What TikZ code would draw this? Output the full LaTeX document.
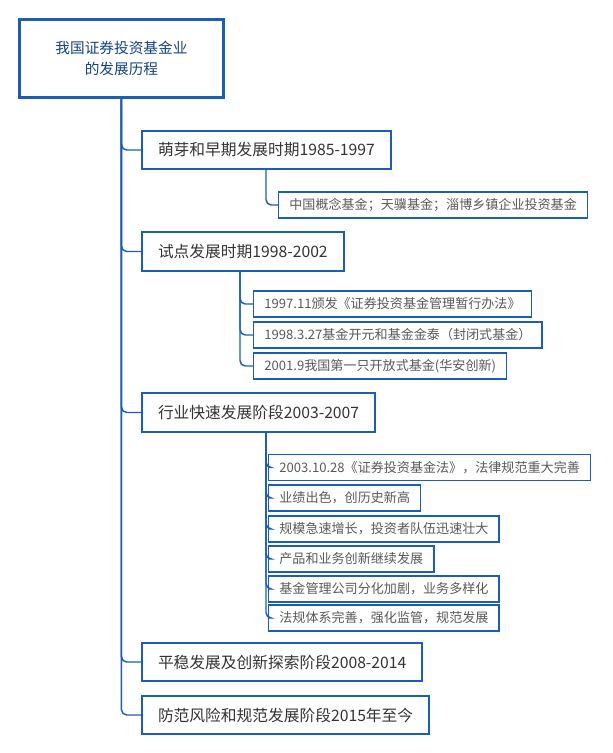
\documentclass[tikz,border=0pt]{standalone}
\usepackage{fontspec}
\setmainfont{Noto Sans CJK SC}
\definecolor{bl}{RGB}{28,94,180}
\begin{document}
\begin{tikzpicture}[x=0.75pt,y=-0.75pt,
  rootbox/.style={draw=bl, line width=2.2pt, align=center, text=bl!70!black, font=\fontsize{11pt}{16pt}\selectfont, minimum width=153pt, minimum height=58.5pt, anchor=north west},
  lvone/.style={draw=bl, line width=1.5pt, text=black!80, font=\fontsize{11.8pt}{13pt}\selectfont, inner xsep=12pt, minimum height=29pt, anchor=west},
  lvtwo/.style={draw=bl, line width=1.1pt, text=black!65, font=\fontsize{9.8pt}{11pt}\selectfont, inner xsep=8pt, minimum height=19.5pt, anchor=west},
  conn/.style={draw=bl, line width=1.1pt, rounded corners=4pt}]
\useasboundingbox (0,0) rectangle (613,753);
\node[rootbox] (root) at (18,18) {我国证券投资基金业\\的发展历程};
\node[lvone] (a) at (141,150) {萌芽和早期发展时期1985-1997};
\node[lvone] (b) at (141,251.5) {试点发展时期1998-2002};
\node[lvone] (c) at (141,412.5) {行业快速发展阶段2003-2007};
\node[lvone] (d) at (141,662) {平稳发展及创新探索阶段2008-2014};
\node[lvone] (e) at (141,715) {防范风险和规范发展阶段2015年至今};
\foreach \n in {a,b,c,d,e} \draw[conn] (root.south) |- (\n.west);
\node[lvtwo] (a1) at (278,205) {中国概念基金；天骥基金；淄博乡镇企业投资基金};
\coordinate (ca) at (266,170);
\draw[conn] (ca) |- (a1.west);
\node[lvtwo] (b1) at (253,304) {1997.11颁发《证券投资基金管理暂行办法》};
\node[lvtwo] (b2) at (253,335) {1998.3.27基金开元和基金金泰（封闭式基金）};
\node[lvtwo] (b3) at (253,366) {2001.9我国第一只开放式基金(华安创新)};
\coordinate (cb) at (240,271);
\foreach \n in {b1,b2,b3} \draw[conn] (cb) |- (\n.west);
\node[lvtwo] (c1) at (268,467.5) {2003.10.28《证券投资基金法》，法律规范重大完善};
\node[lvtwo] (c2) at (268,498) {业绩出色，创历史新高};
\node[lvtwo] (c3) at (268,529) {规模急速增长，投资者队伍迅速壮大};
\node[lvtwo] (c4) at (268,559) {产品和业务创新继续发展};
\node[lvtwo] (c5) at (268,589) {基金管理公司分化加剧，业务多样化};
\node[lvtwo] (c6) at (268,618) {法规体系完善，强化监管，规范发展};
\coordinate (cc) at (266,432);
\foreach \n in {c1,c2,c3,c4,c5,c6} \draw[conn] (cc) |- (\n.west);
\end{tikzpicture}
\end{document}
